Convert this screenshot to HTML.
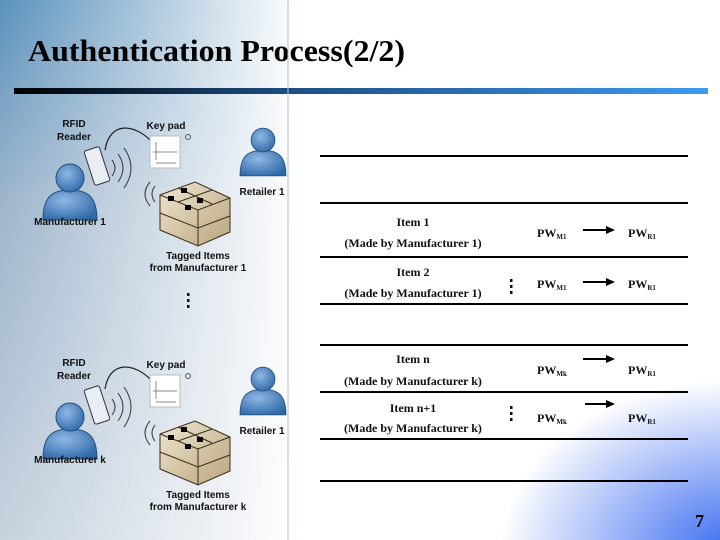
<!DOCTYPE html>
<html><head><meta charset="utf-8"><style>
body{margin:0;width:720px;height:540px;overflow:hidden;position:relative;background:#fff;font-family:"Liberation Serif",serif}
.bg{position:absolute;left:0;top:0;width:720px;height:540px;background:linear-gradient(90deg,rgba(255,255,255,0) 0px,#fff 300px),linear-gradient(180deg,#5a92bd 0px,#9db5cc 200px,#c6d2de 540px)}
.bg2{position:absolute;left:300px;top:0;width:420px;height:540px;background:#fff}
.br{position:absolute;left:0;top:0;width:720px;height:540px;background:radial-gradient(ellipse 230px 170px at 730px 550px,#3a6ff0 0%,#8aa6f6 40%,rgba(255,255,255,0) 100%)}
</style></head><body>
<div class="bg"></div><div class="bg2"></div><div class="br"></div>
<svg width="720" height="540" style="position:absolute;left:0;top:0" font-family="Liberation Serif,serif">
<defs>
<linearGradient id="bar" x1="0" x2="1"><stop offset="0" stop-color="#000"/><stop offset="0.4" stop-color="#1d4f85"/><stop offset="1" stop-color="#3d9af0"/></linearGradient>
<radialGradient id="pg" cx="0.4" cy="0.35" r="0.7"><stop offset="0" stop-color="#8fb8e6"/><stop offset="1" stop-color="#2f6aa8"/></radialGradient>
<linearGradient id="bx" x1="0" x2="1" y1="0" y2="1"><stop offset="0" stop-color="#f0e6cf"/><stop offset="1" stop-color="#b9a57e"/></linearGradient>
<g id="person"><path d="M-27,28 C-27,5 -18,-2 0,-2 C18,-2 27,5 27,28 Z" fill="url(#pg)" stroke="#244f80"/><circle cx="0" cy="-14" r="14" fill="url(#pg)" stroke="#244f80"/></g>
<g id="grp">
<use href="#person" transform="translate(70,192)"/>
<use href="#person" transform="translate(263,152) scale(0.85)"/>
<path d="M105,150 C110,120 135,125 150,140" fill="none" stroke="#222" stroke-width="1.2"/>
<rect x="89" y="148" width="16" height="36" rx="2" fill="#e8eef4" stroke="#333" transform="rotate(-18 97 166)"/>
<path d="M112,160 q6,8 0,16 M118,154 q10,14 0,28 M124,148 q14,20 0,40" fill="none" stroke="#333"/>
<rect x="150" y="136" width="30" height="32" fill="#fff" stroke="#bbb"/>
<path d="M156,142 v18 M153,152 h24 M156,163 h20" stroke="#888"/>
<circle cx="188" cy="137" r="2.5" fill="none" stroke="#555"/>
<path d="M155,186 q-6,8 0,16 M150,182 q-10,12 0,24" fill="none" stroke="#333"/>
<path d="M160,195 L195,182 L230,198 L230,232 L198,246 L160,230 Z" fill="url(#bx)" stroke="#3a2e1c"/>
<path d="M160,195 L198,210 L230,198 M198,210 V246 M160,213 L198,228 L230,216 M178,188 L212,204 M178,202 L212,190" fill="none" stroke="#3a2e1c"/>
<rect x="181" y="188" width="6" height="5"/><rect x="168" y="196" width="6" height="5"/><rect x="197" y="198" width="6" height="5"/><rect x="185" y="205" width="6" height="5"/>
<g font-family="Liberation Sans,sans-serif" font-weight="bold" font-size="10" text-anchor="middle" fill="#111">
<text x="74" y="127">RFID</text><text x="74" y="140">Reader</text>
<text x="166" y="129">Key pad</text><text x="262" y="195">Retailer 1</text>
</g></g>
</defs>
<text x="28" y="61" font-size="31" font-weight="bold" textLength="377" lengthAdjust="spacingAndGlyphs">Authentication Process(2/2)</text>
<rect x="14" y="88" width="694" height="6" fill="url(#bar)"/>
<line x1="288" y1="0" x2="288" y2="540" stroke="#b5c2d0" stroke-width="1"/>
<use href="#grp"/>
<use href="#grp" transform="translate(0,239)"/>
<g font-family="Liberation Sans,sans-serif" font-weight="bold" font-size="10" text-anchor="middle" fill="#111">
<text x="70" y="225">Manufacturer 1</text><text x="198" y="259">Tagged Items</text><text x="198" y="271">from Manufacturer 1</text>
<text x="70" y="463">Manufacturer k</text><text x="198" y="498">Tagged Items</text><text x="198" y="510">from Manufacturer k</text>
</g>
<g fill="#111"><rect x="187" y="293" width="2.5" height="3"/><rect x="187" y="299" width="2.5" height="3"/><rect x="187" y="305" width="2.5" height="3"/>
<rect x="510" y="279" width="2.5" height="3"/><rect x="510" y="285" width="2.5" height="3"/><rect x="510" y="291" width="2.5" height="3"/>
<rect x="510" y="406" width="2.5" height="3"/><rect x="510" y="412" width="2.5" height="3"/><rect x="510" y="418" width="2.5" height="3"/></g>
<g stroke="#000" stroke-width="2"><line x1="320" y1="156" x2="688" y2="156"/><line x1="320" y1="203" x2="688" y2="203"/><line x1="320" y1="257" x2="688" y2="257"/><line x1="320" y1="304" x2="688" y2="304"/><line x1="320" y1="345" x2="688" y2="345"/><line x1="320" y1="392" x2="688" y2="392"/><line x1="320" y1="439" x2="688" y2="439"/><line x1="320" y1="481" x2="688" y2="481"/></g>
<g stroke="#000" stroke-width="2"><line x1="583" y1="230" x2="608" y2="230"/><line x1="583" y1="282" x2="608" y2="282"/><line x1="583" y1="359" x2="608" y2="359"/><line x1="585" y1="404" x2="608" y2="404"/></g>
<g><path d="M606,226 L615,230 L606,234Z"/><path d="M606,278 L615,282 L606,286Z"/><path d="M606,355 L615,359 L606,363Z"/><path d="M606,400 L615,404 L606,408Z"/></g>
<g font-size="12" font-weight="bold" text-anchor="middle" fill="#111">
<text x="413" y="226">Item 1</text><text x="413" y="247">(Made by Manufacturer 1)</text>
<text x="413" y="276">Item 2</text><text x="413" y="297">(Made by Manufacturer 1)</text>
<text x="413" y="363">Item n</text><text x="413" y="385">(Made by Manufacturer k)</text>
<text x="413" y="412">Item n+1</text><text x="413" y="432">(Made by Manufacturer k)</text>
</g>
<g font-size="12" font-weight="bold" fill="#111">
<text x="537" y="237">PW<tspan font-size="7" dy="2">M1</tspan></text><text x="628" y="237">PW<tspan font-size="7" dy="2">R1</tspan></text>
<text x="537" y="288">PW<tspan font-size="7" dy="2">M1</tspan></text><text x="628" y="288">PW<tspan font-size="7" dy="2">R1</tspan></text>
<text x="537" y="374">PW<tspan font-size="7" dy="2">Mk</tspan></text><text x="628" y="374">PW<tspan font-size="7" dy="2">R1</tspan></text>
<text x="537" y="422">PW<tspan font-size="7" dy="2">Mk</tspan></text><text x="628" y="422">PW<tspan font-size="7" dy="2">R1</tspan></text>
</g>
<text x="695" y="527" font-size="18" font-weight="bold">7</text>
</svg>
</body></html>
